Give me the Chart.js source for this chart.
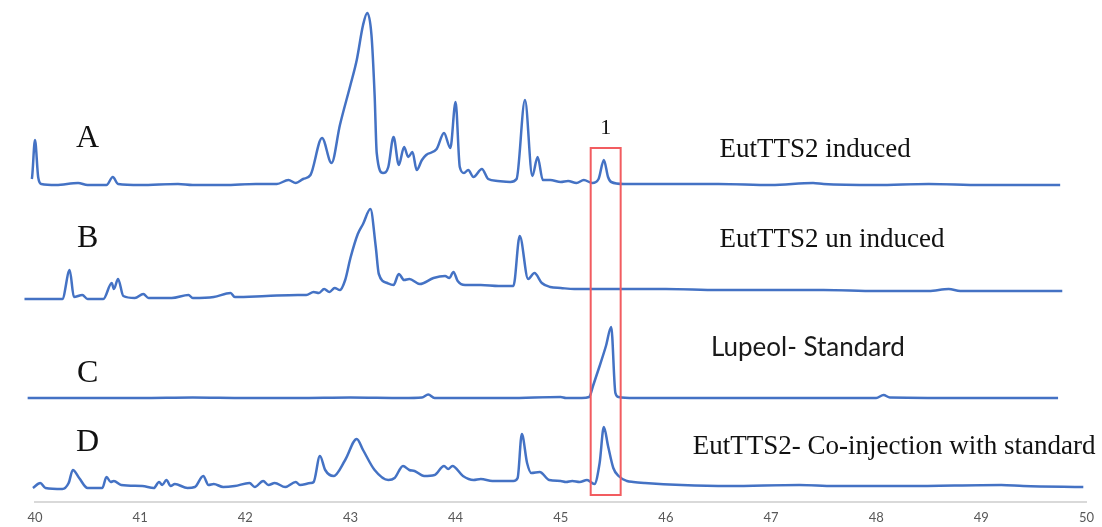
<!DOCTYPE html>
<html>
<head>
<meta charset="utf-8">
<script src="https://cdn.jsdelivr.net/npm/chart.js@4.4.1/dist/chart.umd.min.js"></script>
<style>
  html, body { margin: 0; padding: 0; background: #ffffff; }
  #plot-area { width: 1102px; height: 527px; }
</style>
</head>
<body>
<div id="plot-area"><canvas id="chromatogram" width="1102" height="527"></canvas></div>
<script>
// Retention time (min) and signal (arbitrary units above each trace's own baseline)
const timeA = [39.93, 39.97, 40.0, 40.03, 40.06, 40.2, 40.41, 40.5, 40.68, 40.74, 40.79, 41.0, 41.36, 41.5, 41.8, 42.1, 42.3, 42.41, 42.48, 42.55, 42.62, 42.73, 42.82, 42.9, 43.0, 43.06, 43.12, 43.16, 43.2, 43.23, 43.25, 43.31, 43.36, 43.41, 43.46, 43.51, 43.55, 43.59, 43.63, 43.68, 43.72, 43.82, 43.89, 43.95, 44.0, 44.04, 44.08, 44.12, 44.17, 44.25, 44.31, 44.4, 44.52, 44.58, 44.66, 44.73, 44.78, 44.83, 44.9, 45.0, 45.07, 45.15, 45.22, 45.3, 45.36, 45.41, 45.45, 45.48, 45.6, 46.0, 46.5, 47.0, 47.4, 47.5, 48.0, 48.5, 49.0, 49.75];
const signalA = [0, 6, 45, 8, 1, 0, 2, 0, 0, 8, 1, 0, 1, 0, 0, 1, 1, 5, 2, 6, 10, 47, 22, 60, 100, 125, 160, 172, 150, 90, 32, 12, 18, 48, 20, 38, 28, 33, 15, 25, 30, 36, 52, 37, 83, 18, 12, 15, 8, 16, 6, 4, 3, 6, 85, 9, 28, 5, 5, 3, 4, 2, 5, 2, 6, 25, 8, 3, 1, 1, 1, 0, 2, 1, 0, 1, 0, 0];

const timeB = [39.79, 39.9, 40.0, 40.26, 40.33, 40.37, 40.45, 40.5, 40.65, 40.73, 40.75, 40.79, 40.84, 40.95, 41.03, 41.08, 41.3, 41.46, 41.5, 41.7, 41.86, 41.9, 42.2, 42.5, 42.58, 42.65, 42.7, 42.75, 42.8, 42.85, 42.9, 42.95, 43.0, 43.07, 43.12, 43.19, 43.24, 43.27, 43.35, 43.41, 43.46, 43.51, 43.56, 43.66, 43.79, 43.9, 43.94, 43.98, 44.02, 44.09, 44.24, 44.41, 44.55, 44.61, 44.69, 44.75, 44.82, 44.9, 45.0, 45.13, 45.5, 46.0, 46.5, 47.0, 47.5, 48.0, 48.5, 48.69, 48.8, 49.2, 49.77];
const signalB = [0, 1, 1, 1, 30, 3, 5, 1, 1, 17, 11, 21, 4, 2, 6, 2, 2, 5, 2, 3, 7, 3, 4, 5, 5, 8, 7, 11, 8, 12, 10, 20, 42, 66, 76, 91, 54, 26, 17, 15, 26, 20, 21, 16, 22, 24, 22, 28, 19, 15, 15, 14, 14, 64, 21, 27, 17, 13, 12, 11, 11, 11, 10, 10, 10, 9, 9, 11, 9, 9, 9];

const timeC = [39.93, 40.5, 41.0, 41.5, 42.0, 42.5, 43.0, 43.5, 43.68, 43.74, 43.8, 44.0, 44.5, 45.0, 45.05, 45.2, 45.27, 45.31, 45.37, 45.43, 45.48, 45.52, 45.55, 45.7, 46.0, 47.0, 48.0, 48.07, 48.13, 49.0, 49.73];
const signalC = [0, 0, 0, 0.5, 0, 0, 0.5, 0, 0.5, 3.5, 0, 0, 0, 1, 0, 0, 1, 13, 32, 52, 71, 5, 1, 0, 0, 0, 0, 3, 0.5, 0, 0];

const timeD = [39.98, 40.05, 40.1, 40.26, 40.32, 40.36, 40.42, 40.5, 40.64, 40.68, 40.72, 40.75, 40.82, 41.02, 41.13, 41.18, 41.21, 41.25, 41.29, 41.33, 41.45, 41.52, 41.6, 41.65, 41.7, 41.79, 41.9, 42.04, 42.09, 42.17, 42.22, 42.28, 42.38, 42.48, 42.52, 42.62, 42.65, 42.71, 42.76, 42.84, 42.95, 43.06, 43.12, 43.23, 43.36, 43.42, 43.5, 43.56, 43.61, 43.7, 43.8, 43.89, 43.93, 43.97, 44.07, 44.17, 44.24, 44.35, 44.55, 44.59, 44.63, 44.68, 44.72, 44.8, 44.89, 45.0, 45.05, 45.11, 45.18, 45.25, 45.32, 45.37, 45.41, 45.45, 45.5, 45.55, 45.63, 45.69, 45.8, 46.15, 46.6, 47.27, 47.6, 48.3, 49.19, 49.4, 49.97];
const signalD = [0, 5, 0, -1, 5, 18, 10, 0, 0, 11, 6, 7, 3, 2, 0, 6, 3, 8, 2, 4, 0, 1, 12, 3, 4, 1, 2, 5, 1, 7, 3, 5, 1, 6, 3, 5, 6, 32, 18, 12, 28, 49, 38, 18, 8, 10, 22, 18, 17, 12, 13, 22, 19, 22, 12, 8, 9, 7, 7, 10, 54, 25, 15, 16, 8, 7, 6, 7, 6, 8, 4, 25, 61, 42, 20, 12, 7, 6, 5, 3, 2, 3, 2, 2, 3, 2, 1];

const xTicks = [40, 41, 42, 43, 44, 45, 46, 47, 48, 49, 50];

const traceLetters = ['A', 'B', 'C', 'D'];
const traceNames = ['EutTTS2 induced', 'EutTTS2 un induced', 'Lupeol- Standard', 'EutTTS2- Co-injection with standard'];
const peakLabel = '1';
const peakWindow = [45.285, 45.57];

// Layout: vertical stacking of the traces and where the captions go
const baselines = [317, 202, 104, 14];
const letterPos = [[40.5, 363], [40.5, 263], [40.5, 128], [40.5, 59]];
const namePos = [[47.42, 352], [47.58, 262], [47.35, 154], [48.17, 55]];
const nameFonts = ['27px "Liberation Serif"', '27px "Liberation Serif"', '26px Lato', '27px "Liberation Serif"'];
const LINE_COLOR = '#4472c4';
const BOX_COLOR = '#f25c60';

function buildPoints(times, signal, base) {
    return times.map((t, i) => ({ x: t, y: base + signal[i] }));
}

const traces = [
    buildPoints(timeA, signalA, baselines[0]),
    buildPoints(timeB, signalB, baselines[1]),
    buildPoints(timeC, signalC, baselines[2]),
    buildPoints(timeD, signalD, baselines[3])
];

// Draws the letters, trace names and the red peak window on top of the lines
const annotationPlugin = {
    id: 'annotations',
    afterDatasetsDraw(chart) {
        const ctx = chart.ctx;
        const xs = chart.scales.x;
        const ys = chart.scales.y;
        ctx.save();

        // red window around peak 1
        ctx.strokeStyle = BOX_COLOR;
        ctx.lineWidth = 2;
        const left = xs.getPixelForValue(peakWindow[0]);
        const right = xs.getPixelForValue(peakWindow[1]);
        const top = ys.getPixelForValue(354);
        const bottom = ys.getPixelForValue(7);
        ctx.strokeRect(left, top, right - left, bottom - top);

        ctx.fillStyle = '#111111';
        ctx.textAlign = 'center';
        ctx.textBaseline = 'middle';

        ctx.font = '22px "Liberation Serif"';
        ctx.fillText(peakLabel, xs.getPixelForValue((peakWindow[0] + peakWindow[1]) / 2), ys.getPixelForValue(374));

        ctx.font = '32px "Liberation Serif"';
        traceLetters.forEach((letter, i) => {
            ctx.fillText(letter, xs.getPixelForValue(letterPos[i][0]), ys.getPixelForValue(letterPos[i][1]));
        });

        traceNames.forEach((name, i) => {
            ctx.font = nameFonts[i];
            ctx.fillStyle = i === 2 ? '#1a1a1a' : '#111111';
            ctx.fillText(name, xs.getPixelForValue(namePos[i][0]), ys.getPixelForValue(namePos[i][1]));
        });
        ctx.restore();
    }
};

new Chart(document.getElementById('chromatogram'), {
    type: 'line',
    data: {
        datasets: traces.map((points, i) => ({
            label: traceLetters[i],
            data: points,
            borderColor: LINE_COLOR,
            borderWidth: 2.5,
            pointRadius: 0,
            fill: false,
            clip: false,
            cubicInterpolationMode: 'monotone'
        }))
    },
    options: {
        responsive: false,
        animation: false,
        layout: { padding: { left: 35, right: 13, top: 12, bottom: 0 } },
        scales: {
            x: {
                type: 'linear',
                min: 40,
                max: 50,
                afterFit: (scale) => { scale.height = 25; },
                afterBuildTicks: (scale) => { scale.ticks = xTicks.map(v => ({ value: v })); },
                grid: { display: false, drawTicks: false },
                border: { display: true, color: '#d9d9d9', width: 2 },
                ticks: {
                    padding: 8,
                    color: '#595959',
                    font: { family: 'Lato', size: 13 }
                }
            },
            y: {
                display: false,
                min: 0,
                max: 490
            }
        },
        plugins: {
            legend: { display: false },
            tooltip: { enabled: false }
        }
    },
    plugins: [annotationPlugin]
});
</script>
</body>
</html>
